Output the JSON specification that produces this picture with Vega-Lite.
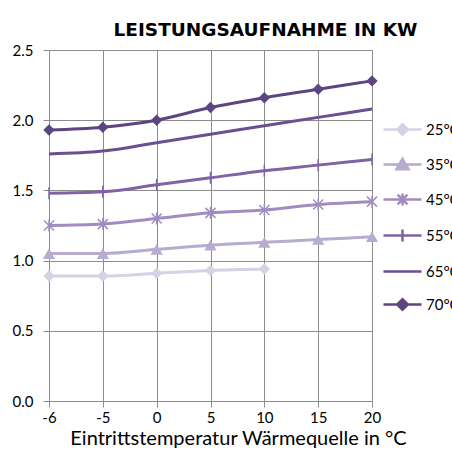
{
  "$schema": "https://vega.github.io/schema/vega-lite/v6.json",
  "autosize": "none",
  "padding": {"left": 49, "top": 50, "right": 80, "bottom": 54},
  "width": 323,
  "height": 351,
  "background": "white",
  "title": {
    "text": "LEISTUNGSAUFNAHME IN KW",
    "font": "DejaVu Sans",
    "fontSize": 18.5,
    "fontWeight": "bold",
    "color": "#000000",
    "anchor": "middle",
    "dx": 55,
    "offset": 4
  },
  "data": {
    "values": [
      {"t": -6, "series": "25°C", "value": 0.89},
      {"t": -5, "series": "25°C", "value": 0.89},
      {"t": 0, "series": "25°C", "value": 0.91},
      {"t": 5, "series": "25°C", "value": 0.93},
      {"t": 10, "series": "25°C", "value": 0.94},
      {"t": -6, "series": "35°C", "value": 1.05},
      {"t": -5, "series": "35°C", "value": 1.05},
      {"t": 0, "series": "35°C", "value": 1.08},
      {"t": 5, "series": "35°C", "value": 1.11},
      {"t": 10, "series": "35°C", "value": 1.13},
      {"t": 15, "series": "35°C", "value": 1.15},
      {"t": 20, "series": "35°C", "value": 1.17},
      {"t": -6, "series": "45°C", "value": 1.25},
      {"t": -5, "series": "45°C", "value": 1.26},
      {"t": 0, "series": "45°C", "value": 1.30},
      {"t": 5, "series": "45°C", "value": 1.34},
      {"t": 10, "series": "45°C", "value": 1.36},
      {"t": 15, "series": "45°C", "value": 1.40},
      {"t": 20, "series": "45°C", "value": 1.42},
      {"t": -6, "series": "55°C", "value": 1.48},
      {"t": -5, "series": "55°C", "value": 1.49},
      {"t": 0, "series": "55°C", "value": 1.54},
      {"t": 5, "series": "55°C", "value": 1.59},
      {"t": 10, "series": "55°C", "value": 1.64},
      {"t": 15, "series": "55°C", "value": 1.68},
      {"t": 20, "series": "55°C", "value": 1.72},
      {"t": -6, "series": "65°C", "value": 1.76},
      {"t": -5, "series": "65°C", "value": 1.78},
      {"t": 0, "series": "65°C", "value": 1.84},
      {"t": 5, "series": "65°C", "value": 1.90},
      {"t": 10, "series": "65°C", "value": 1.96},
      {"t": 15, "series": "65°C", "value": 2.02},
      {"t": 20, "series": "65°C", "value": 2.08},
      {"t": -6, "series": "70°C", "value": 1.93},
      {"t": -5, "series": "70°C", "value": 1.95},
      {"t": 0, "series": "70°C", "value": 2.00},
      {"t": 5, "series": "70°C", "value": 2.09},
      {"t": 10, "series": "70°C", "value": 2.16},
      {"t": 15, "series": "70°C", "value": 2.22},
      {"t": 20, "series": "70°C", "value": 2.28}
    ]
  },
  "encoding": {
    "x": {
      "field": "t",
      "type": "ordinal",
      "scale": {"type": "point", "padding": 0, "domain": [-6, -5, 0, 5, 10, 15, 20]},
      "axis": {
        "title": "Eintrittstemperatur Wärmequelle  in °C",
        "labelAngle": 0,
        "grid": true,
        "gridColor": "#8c8c8c",
        "gridWidth": 1,
        "domainColor": "#8c8c8c",
        "tickColor": "#8c8c8c",
        "tickSize": 6,
        "labelFont": "Lato",
        "labelFontSize": 15,
        "labelColor": "#000000",
        "labelPadding": 3,
        "titleFont": "Lato",
        "titleFontSize": 20,
        "titleFontWeight": "normal",
        "titleColor": "#000000",
        "titlePadding": 3,
        "titleX": 189
      }
    },
    "y": {
      "field": "value",
      "type": "quantitative",
      "scale": {"domain": [0, 2.5]},
      "axis": {
        "title": null,
        "values": [0, 0.5, 1, 1.5, 2, 2.5],
        "format": ".1f",
        "grid": true,
        "gridColor": "#8c8c8c",
        "gridWidth": 1,
        "domainColor": "#8c8c8c",
        "tickColor": "#8c8c8c",
        "tickSize": 6,
        "labelFont": "Lato",
        "labelFontSize": 15,
        "labelColor": "#000000",
        "labelPadding": 10
      }
    }
  },
  "layer": [
    {
      "mark": {"type": "point", "filled": true, "opacity": 0, "strokeWidth": 2.5},
      "encoding": {
        "color": {
          "field": "series",
          "type": "nominal",
          "scale": {
            "domain": ["25°C", "35°C", "45°C", "55°C", "65°C", "70°C"],
            "range": ["#d8d0e4", "#b8abd0", "#a18cc0", "#7f63a5", "#6a4f92", "#5c4580"]
          },
          "legend": {
            "title": null,
            "orient": "none",
            "legendX": 333,
            "legendY": 59,
            "symbolSize": 1444,
            "symbolStrokeWidth": 2.5,
            "symbolOpacity": 1,
            "rowPadding": 4,
            "labelFont": "Lato",
            "labelFontSize": 15,
            "labelColor": "#000000",
            "labelOffset": 3,
            "padding": 0
          }
        },
        "stroke": {
          "field": "series",
          "type": "nominal",
          "scale": {
            "domain": ["25°C", "35°C", "45°C", "55°C", "65°C", "70°C"],
            "range": ["#d8d0e4", "#b8abd0", "#a18cc0", "#7f63a5", "#6a4f92", "#5c4580"]
          }
        },
        "shape": {
          "field": "series",
          "type": "nominal",
          "scale": {
            "domain": ["25°C", "35°C", "45°C", "55°C", "65°C", "70°C"],
            "range": [
              "M-1,0H1M0,-0.28L0.28,0L0,0.28L-0.28,0Z",
              "M-1,0H1M0,-0.3L0.32,0.25H-0.32Z",
              "M-1,0H1M-0.26,-0.26L0.26,0.26M-0.26,0.26L0.26,-0.26M0,-0.32V0.32",
              "M-1,0H1M0,-0.32V0.32",
              "M-1,0H1",
              "M-1,0H1M0,-0.28L0.28,0L0,0.28L-0.28,0Z"
            ]
          }
        }
      }
    },
    {
      "mark": {"type": "line", "strokeWidth": 3, "interpolate": "monotone"},
      "encoding": {
        "color": {"field": "series", "type": "nominal"}
      }
    },
    {
      "transform": [{"filter": "datum.series === '25°C' || datum.series === '70°C'"}],
      "mark": {"type": "point", "filled": true, "shape": "diamond", "size": 130, "opacity": 1},
      "encoding": {"color": {"field": "series", "type": "nominal"}}
    },
    {
      "transform": [{"filter": "datum.series === '35°C'"}],
      "mark": {"type": "point", "filled": true, "shape": "triangle-up", "size": 150, "opacity": 1},
      "encoding": {"color": {"field": "series", "type": "nominal"}}
    },
    {
      "transform": [{"filter": "datum.series === '45°C'"}],
      "mark": {"type": "point", "filled": false, "shape": "M-1,-1L1,1M-1,1L1,-1M0,-1.2V1.2", "size": 100, "strokeWidth": 1.5, "opacity": 1},
      "encoding": {"color": {"field": "series", "type": "nominal"}}
    },
    {
      "transform": [{"filter": "datum.series === '55°C'"}],
      "mark": {"type": "point", "filled": false, "shape": "M0,-1V1", "size": 144, "strokeWidth": 1.5, "opacity": 1},
      "encoding": {"color": {"field": "series", "type": "nominal"}}
    }
  ]
}
